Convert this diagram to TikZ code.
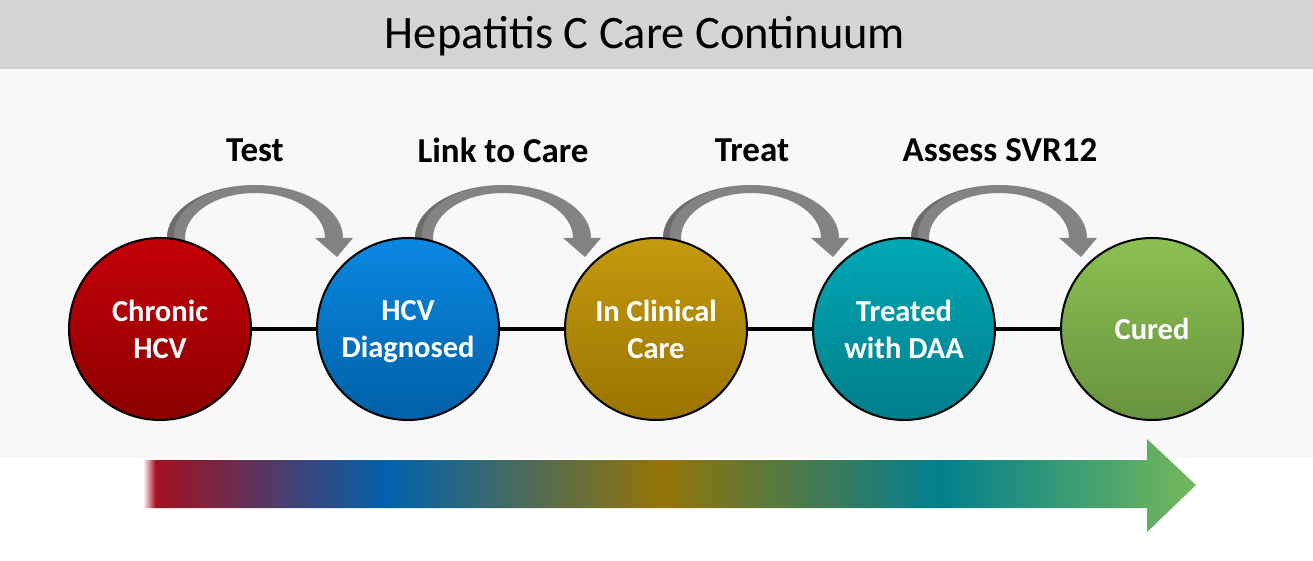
\documentclass[tikz,border=0pt]{standalone}
\usepackage{fontspec}
\setmainfont{Carlito}
\definecolor{hdr}{HTML}{D4D4D4}
\definecolor{panel}{HTML}{F8F8F8}
\definecolor{agray}{HTML}{838383}
\definecolor{adark}{HTML}{6C6C6C}
\definecolor{redT}{HTML}{C40008}
\definecolor{redB}{HTML}{8A0000}
\definecolor{bluT}{HTML}{0A88E2}
\definecolor{bluB}{HTML}{0060A6}
\definecolor{golT}{HTML}{C49A0E}
\definecolor{golB}{HTML}{9A7400}
\definecolor{teaT}{HTML}{00A8B6}
\definecolor{teaB}{HTML}{007E8A}
\definecolor{grnT}{HTML}{8CC052}
\definecolor{grnB}{HTML}{68923E}
\definecolor{barred}{HTML}{A41020}
\definecolor{barblue}{HTML}{0062AC}
\definecolor{bargold}{HTML}{957408}
\definecolor{barteal}{HTML}{00808E}
\definecolor{bargreen}{HTML}{74B85A}
\pgfdeclarehorizontalshading{spectrum}{100bp}{color(0bp)=(white); color(25bp)=(white); color(25.6bp)=(barred); color(36.6bp)=(barblue); color(49.6bp)=(bargold); color(62.8bp)=(barteal); color(75bp)=(bargreen); color(100bp)=(bargreen)}
\tikzset{
  stage/.style={circle, draw=black, line width=2pt, minimum size=182pt, inner sep=0pt,
    align=center, text=white, font=\fontsize{30.5}{37}\selectfont\bfseries},
  steplabel/.style={font=\fontsize{35}{40}\selectfont\bfseries, text=black},
  link/.style={line width=3.6pt, draw=black},
}
\newcommand{\curvedarrow}[1]{%
  \fill[agray] (#1-88,245) -- (#1-88,238) arc[start angle=180, end angle=360, x radius=88, y radius=53]
    -- (#1+98,238) -- (#1+82,257) -- (#1+60,238) -- (#1+70,238)
    arc[start angle=360, end angle=180, x radius=70, y radius=45] -- (#1-70,245) -- cycle;
  \fill[adark] (#1-88,245) -- (#1-88,238) arc[start angle=180, end angle=262, x radius=88, y radius=53]
    arc[start angle=262, end angle=180, x radius=80, y radius=50] -- (#1-80,245) -- cycle;
}
\begin{document}
\begin{tikzpicture}[x=1pt,y=-1pt]
\useasboundingbox (0,0) rectangle (1313,561);
\fill[white] (0,0) rectangle (1313,561);
\fill[panel] (0,69) rectangle (1313,458);
\fill[hdr] (0,0) rectangle (1313,69);
\node[font=\fontsize{46.5}{50}\selectfont] (title) at (645,36) {Hepatitis C Care Continuum};
% gradient arrow
\shade[shading=spectrum] (143,460) -- (1147,460) -- (1147,439) -- (1196,485) -- (1147,532) -- (1147,508) -- (143,508) -- cycle;
% curved arrows
\curvedarrow{255}
\curvedarrow{503}
\curvedarrow{751}
\curvedarrow{999}
% labels
\node[steplabel] (l1) at (255,150) {Test};
\node[steplabel] (l2) at (503,150) {Link to Care};
\node[steplabel] (l3) at (752,150) {Treat};
\node[steplabel] (l4) at (1000,150) {Assess SVR12};
% stages
\node[stage, top color=redT, bottom color=redB] (c1) at (160,329) {Chronic\\HCV};
\node[stage, top color=bluT, bottom color=bluB] (c2) at (408,329) {HCV\\Dia\smash{g}nosed};
\node[stage, top color=golT, bottom color=golB] (c3) at (656,329) {In Clinical\\Care};
\node[stage, top color=teaT, bottom color=teaB] (c4) at (904,329) {Treated\\with DAA};
\node[stage, top color=grnT, bottom color=grnB] (c5) at (1152,329) {Cured};
\draw[link] (c1) -- (c2);
\draw[link] (c2) -- (c3);
\draw[link] (c3) -- (c4);
\draw[link] (c4) -- (c5);
\end{tikzpicture}
\end{document}
